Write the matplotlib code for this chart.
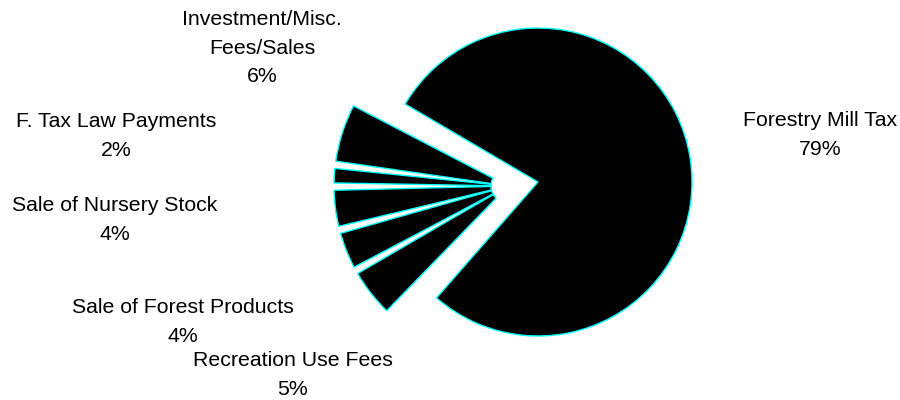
import matplotlib
matplotlib.use('Agg')
import matplotlib.pyplot as plt

# revenue sources, percent of total
sources = ['Forestry Mill Tax', 'Investment/Misc.\nFees/Sales', 'F. Tax Law Payments',
           'Sale of Nursery Stock', 'Sale of Forest Products', 'Recreation Use Fees']
percents = [79, 6, 2, 4, 4, 5]

# label anchor points (pixel space, y up)
label_x = [820, 262, 116, 115, 183, 293]
label_y = [265, 352, 264, 180, 78, 25]

plt.rcParams['font.family'] = ['Liberation Sans', 'DejaVu Sans']

fig = plt.figure(figsize=(9, 4), dpi=100)
ax = fig.add_axes([0, 0, 1, 1])

wedges, _ = ax.pie(percents, startangle=227, counterclock=True,
                   center=(538, 218), radius=154,
                   wedgeprops=dict(facecolor='black', edgecolor='#00ffff', linewidth=1.0))

# big slice stays put, the small ones get pulled out as a group
big = wedges[0]
big.set_theta1(big.theta1 + 1.8)
big.set_theta2(big.theta2 - 1.8)
for w in wedges[1:]:
    w.set_center((508, 214))
    w.set_radius(174)
    w.set_width(174 - 17)
    w.set_theta1(w.theta1 + 1.2)
    w.set_theta2(w.theta2 - 1.2)

for name, p, x, y in zip(sources, percents, label_x, label_y):
    ax.text(x, y, '%s\n%d%%' % (name, p), ha='center', va='center',
            fontsize=15.3, linespacing=1.65, color='black')

ax.set_xlim(0, 900)
ax.set_ylim(0, 400)
ax.set_aspect('equal')
ax.axis('off')

fig.savefig('out.png', dpi=100, facecolor='white')
